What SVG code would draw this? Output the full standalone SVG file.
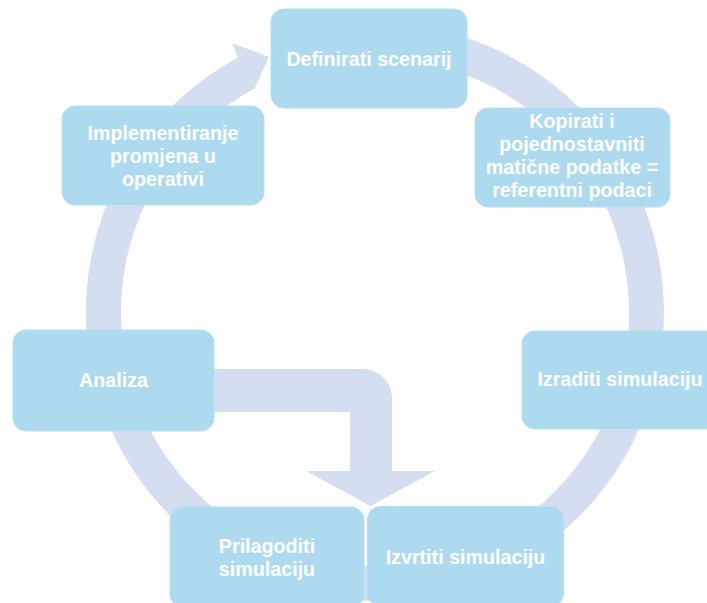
<svg xmlns="http://www.w3.org/2000/svg" width="707" height="603" viewBox="0 0 707 603">
<style>
.box{fill:#ADDAEE;stroke:#B6DEF0;stroke-width:1}
.lbl{font-family:"Liberation Sans",Arial,sans-serif;font-weight:bold;font-size:19.7px;fill:#FFFFFF;text-anchor:middle}
.flow{fill:#D4DEF0;stroke:none}
</style>
<rect width="707" height="603" fill="#FFFFFF"/>
<g id="connectors">
<path id="cycle-arrow" class="flow" d="M 314.9 29.3 A 289 289 0 1 1 238 57.5 L 232 43 L 269 57 L 253 92 L 254.6 88.4 A 254 254 0 1 0 322.2 63.6 Z"/>
<path id="bent-arrow" class="flow" d="M 200 369 H 363 A 29 29 0 0 1 392 398 V 471 H 435 L 370.5 506 L 306 471 H 350 V 412 H 200 Z"/>
</g>
<g id="node-definirati">
<rect class="box" x="271" y="9" width="196" height="99" rx="13"/>
<text class="lbl" x="369" y="66">Definirati scenarij</text>
</g>
<g id="node-kopirati">
<rect class="box" x="475" y="108" width="195" height="99" rx="13"/>
<text class="lbl" x="572" y="128">Kopirati i</text>
<text class="lbl" x="572" y="151">pojednostavniti</text>
<text class="lbl" x="572" y="174">matične podatke =</text>
<text class="lbl" x="572" y="197">referentni podaci</text>
</g>
<g id="node-izraditi">
<rect class="box" x="522" y="331" width="196" height="98" rx="13"/>
<text class="lbl" x="620" y="386">Izraditi simulaciju</text>
</g>
<g id="node-izvrtiti">
<rect class="box" x="367.5" y="506.5" width="196" height="100" rx="13"/>
<text class="lbl" x="465.5" y="564">Izvrtiti simulaciju</text>
</g>
<g id="node-prilagoditi">
<rect class="box" x="170" y="507" width="194" height="100" rx="13"/>
<text class="lbl" x="267" y="553">Prilagoditi</text>
<text class="lbl" x="267" y="576">simulaciju</text>
</g>
<g id="node-analiza">
<rect class="box" x="13" y="330" width="201" height="101" rx="13"/>
<text class="lbl" x="113.5" y="387">Analiza</text>
</g>
<g id="node-implementiranje">
<rect class="box" x="62" y="106" width="202" height="99" rx="13"/>
<text class="lbl" x="163" y="140">Implementiranje</text>
<text class="lbl" x="163" y="163">promjena u</text>
<text class="lbl" x="163" y="186">operativi</text>
</g>
</svg>
